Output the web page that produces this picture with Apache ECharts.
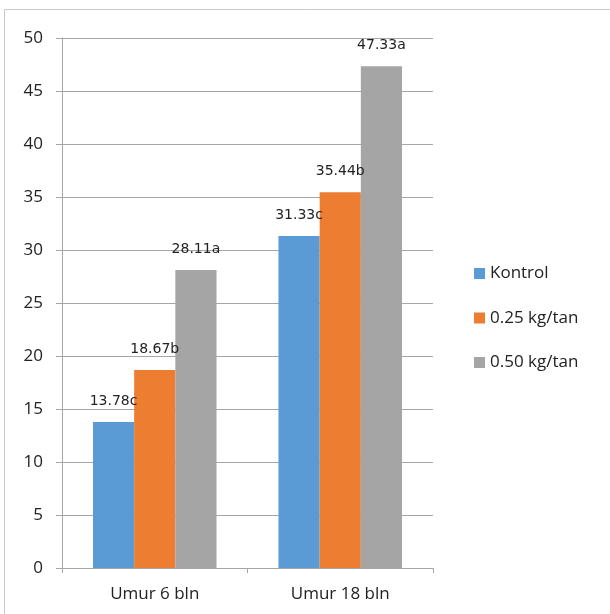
<!DOCTYPE html>
<html>
<head>
<meta charset="utf-8">
<script src="https://cdn.jsdelivr.net/npm/echarts@6/dist/echarts.min.js"></script>
<style>
html,body{margin:0;padding:0;background:#fff;}
#chart{width:610px;height:614px;}
</style>
</head>
<body>
<div id="chart"></div>
<script>
const categories = ['Umur 6 bln', 'Umur 18 bln'];
const seriesNames = ['Kontrol', '0.25 kg/tan', '0.50 kg/tan'];
const kontrol = [13.78, 31.33];
const dosis025 = [18.67, 35.44];
const dosis050 = [28.11, 47.33];
const kontrolLetters = ['c', 'c'];
const dosis025Letters = ['b', 'b'];
const dosis050Letters = ['a', 'a'];
const yTicks = [0, 5, 10, 15, 20, 25, 30, 35, 40, 45, 50];

const colors = ['#5B9BD5', '#ED7D31', '#A5A5A5'];
const values = [kontrol, dosis025, dosis050];
const letters = [kontrolLetters, dosis025Letters, dosis050Letters];
const axisFont = 'Open Sans';

const chart = echarts.init(document.getElementById('chart'));
chart.setOption({
  animation: false,
  graphic: [{
    type: 'rect', silent: true,
    shape: { x: 4.5, y: 9.5, width: 900, height: 900 },
    style: { fill: 'none', stroke: '#c9c9c9', lineWidth: 1 }
  }],
  grid: { left: 62, right: 177, top: 38, bottom: 46, containLabel: false },
  legend: {
    orient: 'vertical',
    left: 469, top: 260,
    itemWidth: 11, itemHeight: 11, itemGap: 27.5,
    icon: 'rect',
    data: seriesNames,
    textStyle: { fontFamily: axisFont, fontSize: 17, color: '#222', padding: [0, 0, 0, 0] }
  },
  xAxis: {
    type: 'category',
    data: categories,
    axisLine: { lineStyle: { color: '#a6a6a6', width: 1 } },
    axisTick: { show: true, length: 5, alignWithLabel: false, lineStyle: { color: '#a6a6a6' } },
    axisLabel: { fontFamily: axisFont, fontSize: 17, color: '#222', margin: 18 }
  },
  yAxis: {
    type: 'value',
    min: yTicks[0], max: yTicks[yTicks.length - 1], interval: 5,
    axisLine: { show: true, lineStyle: { color: '#a6a6a6', width: 1 } },
    axisTick: { show: true, length: 6, lineStyle: { color: '#a6a6a6' } },
    splitLine: { show: true, lineStyle: { color: '#a6a6a6', width: 1 } },
    axisLabel: { fontFamily: axisFont, fontSize: 17, color: '#222', margin: 19 }
  },
  series: seriesNames.map((name, i) => ({
    name: name,
    type: 'bar',
    data: values[i],
    barGap: '0%',
    barCategoryGap: '33.4%',
    itemStyle: { color: colors[i] },
    label: {
      show: true,
      position: 'top',
      distance: 14,
      fontFamily: 'DejaVu Sans',
      fontSize: 14,
      color: '#222',
      formatter: p => p.value.toFixed(2) + letters[i][p.dataIndex]
    }
  }))
});
</script>
</body>
</html>
